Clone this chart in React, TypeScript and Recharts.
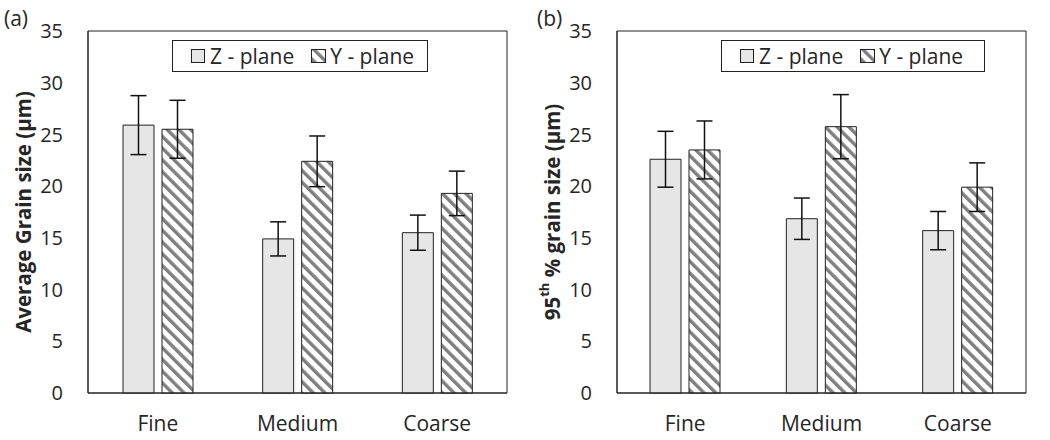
import React from 'react';
import { BarChart, Bar, XAxis, YAxis, ErrorBar, Legend, CartesianGrid } from 'recharts';

const categories = ['Fine', 'Medium', 'Coarse'];
const yTicks = [0, 5, 10, 15, 20, 25, 30, 35];

// (a) average grain size
const avgZ = [25.9, 14.9, 15.5];
const avgZErr = [2.85, 1.65, 1.7];
const avgY = [25.5, 22.4, 19.3];
const avgYErr = [2.8, 2.45, 2.15];

// (b) 95th percentile grain size
const p95Z = [22.6, 16.85, 15.7];
const p95ZErr = [2.7, 2.0, 1.85];
const p95Y = [23.5, 25.75, 19.9];
const p95YErr = [2.8, 3.1, 2.35];

const FONT = '"Open Sans", sans-serif';
const TEXT = '#262626';
const LINE = '#222';

function buildRows(z: number[], zErr: number[], y: number[], yErr: number[]) {
  return categories.map((name, i) => ({
    name,
    z: z[i],
    zErr: zErr[i],
    y: y[i],
    yErr: yErr[i],
  }));
}

function HatchDefs({ id }: { id: string }) {
  return (
    <defs>
      <pattern id={id} patternUnits="userSpaceOnUse" width={8.3} height={8.3} patternTransform="rotate(-45)">
        <rect width={8.3} height={8.3} fill="#fff" />
        <rect width={3.4} height={8.3} fill="#7f7f7f" />
      </pattern>
    </defs>
  );
}

function LegendBox({ width, hatchId }: { width: number; hatchId: string }) {
  const label = { fontFamily: FONT, fontSize: 21, color: TEXT, lineHeight: '30px' };
  return (
    <div
      style={{
        width,
        height: 32,
        boxSizing: 'border-box',
        border: `1px solid ${LINE}`,
        background: '#fff',
        display: 'flex',
        alignItems: 'center',
        paddingLeft: 18,
      }}
    >
      <svg width={14} height={14} style={{ marginRight: 5 }}>
        <rect x={0.5} y={0.5} width={13} height={13} fill="#e6e6e6" stroke={LINE} />
      </svg>
      <span style={label}>Z - plane</span>
      <svg width={15} height={14} style={{ marginLeft: 17, marginRight: 4 }}>
        <HatchDefs id={hatchId + '-icon'} />
        <rect x={0.5} y={0.5} width={14} height={13} fill={`url(#${hatchId}-icon)`} stroke={LINE} />
      </svg>
      <span style={label}>Y - plane</span>
    </div>
  );
}

interface PanelProps {
  left: number;
  width: number;
  axisWidth: number;
  rightMargin: number;
  tag: string;
  tagLeft: number;
  rows: ReturnType<typeof buildRows>;
  hatchId: string;
  legendLeft: number;
  legendWidth: number;
  titleX: number;
  title: React.ReactNode;
}

function Panel(props: PanelProps) {
  const { left, width, axisWidth, rightMargin, tag, tagLeft, rows, hatchId, legendLeft, legendWidth, titleX, title } = props;
  return (
    <div style={{ position: 'absolute', left, top: 0, width, height: 440 }}>
      <div style={{ position: 'absolute', left: tagLeft, top: 4, fontFamily: FONT, fontSize: 21, color: TEXT, lineHeight: '28px' }}>
        {tag}
      </div>
      <BarChart
        width={width}
        height={440}
        data={rows}
        margin={{ top: 31, right: rightMargin, left: 0, bottom: 0 }}
        barSize={31}
        barGap={8}
      >
        <HatchDefs id={hatchId} />
        {/* plot frame: lines on the four edges of the plot area */}
        <CartesianGrid
          stroke={LINE}
          horizontalCoordinatesGenerator={({ offset }: any) => [offset.top, offset.top + offset.height]}
          verticalCoordinatesGenerator={({ offset }: any) => [offset.left, offset.left + offset.width]}
        />
        <XAxis
          dataKey="name"
          height={47}
          tickLine={false}
          tickMargin={17}
          axisLine={{ stroke: LINE }}
          tick={{ fontFamily: FONT, fontSize: 21, fill: TEXT }}
        />
        <YAxis
          width={axisWidth}
          domain={[0, 35]}
          ticks={yTicks}
          interval={0}
          tickLine={false}
          tickMargin={19}
          axisLine={{ stroke: LINE }}
          tick={{ fontFamily: FONT, fontSize: 20, fill: TEXT }}
          label={{
            content: (p: any) => {
              const vb = p.viewBox || { y: 31, height: 362 };
              const cy = vb.y + vb.height / 2;
              return (
                <text
                  x={titleX}
                  y={cy}
                  transform={`rotate(-90 ${titleX} ${cy})`}
                  textAnchor="middle"
                  dominantBaseline="central"
                  fontFamily={FONT}
                  fontWeight="bold"
                  fontSize={20.5}
                  fill={TEXT}
                >
                  {title}
                </text>
              );
            },
          }}
        />
        <Legend
          layout="horizontal"
          verticalAlign="middle"
          align="center"
          wrapperStyle={{ position: 'absolute', top: 40, left: legendLeft, width: legendWidth }}
          content={() => <LegendBox width={legendWidth} hatchId={hatchId} />}
        />
        <Bar dataKey="z" name="Z - plane" fill="#e6e6e6" stroke={LINE} strokeWidth={1} isAnimationActive={false}>
          <ErrorBar dataKey="zErr" width={8} stroke="#111" strokeWidth={1.5} />
        </Bar>
        <Bar dataKey="y" name="Y - plane" fill={`url(#${hatchId})`} stroke={LINE} strokeWidth={1} isAnimationActive={false}>
          <ErrorBar dataKey="yErr" width={8} stroke="#111" strokeWidth={1.5} />
        </Bar>
      </BarChart>
    </div>
  );
}

export default function App() {
  return (
    <div style={{ position: 'absolute', left: 0, top: 0, width: 1050, height: 440, background: '#fff' }}>
      <Panel
        left={0}
        width={520}
        axisWidth={88}
        rightMargin={13}
        tag="(a)"
        tagLeft={4}
        rows={buildRows(avgZ, avgZErr, avgY, avgYErr)}
        hatchId="hatchA"
        legendLeft={172}
        legendWidth={256}
        titleX={23}
        title="Average Grain size (µm)"
      />
      <Panel
        left={520}
        width={530}
        axisWidth={97}
        rightMargin={24}
        tag="(b)"
        tagLeft={17}
        rows={buildRows(p95Z, p95ZErr, p95Y, p95YErr)}
        hatchId="hatchB"
        legendLeft={201}
        legendWidth={264}
        titleX={32}
        title={
          <>
            95
            <tspan fontSize={13} dy={-8}>th</tspan>
            <tspan dy={8}> % grain size (µm)</tspan>
          </>
        }
      />
    </div>
  );
}
